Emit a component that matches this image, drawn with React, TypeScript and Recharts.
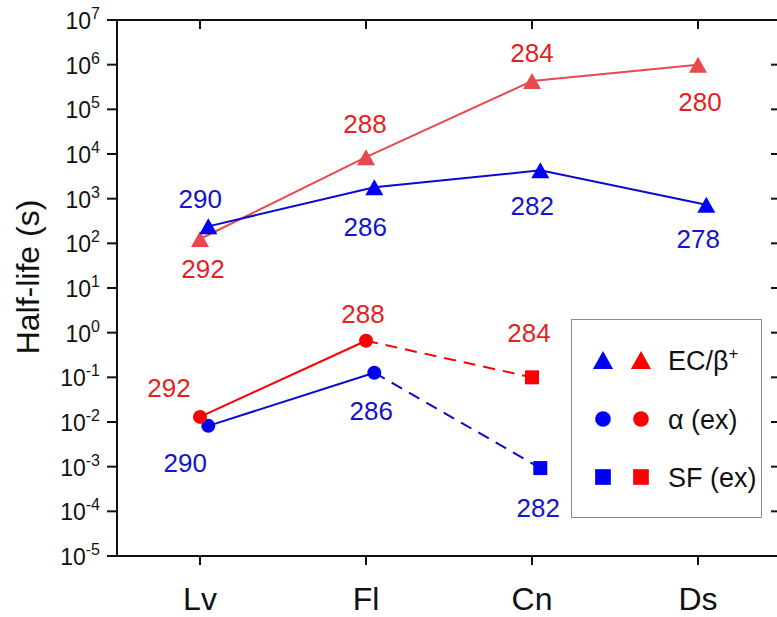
import { ComposedChart, Line, XAxis, YAxis, Legend } from 'recharts';

const FONT = '"Liberation Sans", Arial, Helvetica, sans-serif';

const ELEMENTS = ['Lv', 'Fl', 'Cn', 'Ds'];
const DECADES = [1e-5, 1e-4, 1e-3, 1e-2, 1e-1, 1, 1e1, 1e2, 1e3, 1e4, 1e5, 1e6, 1e7];

// EC/beta+ half-lives (s), one per element, with mass numbers
const EC_RED = [125, 8500, 4.3e5, 1.0e6];
const EC_RED_MASS = [292, 288, 284, 280];
const EC_BLUE = [240, 1800, 4300, 730];
const EC_BLUE_MASS = [290, 286, 282, 278];

// measured alpha half-lives, Lv and Fl only
const ALPHA_RED = [0.013, 0.66];
const ALPHA_RED_MASS = [292, 288];
const ALPHA_BLUE = [0.0082, 0.127];
const ALPHA_BLUE_MASS = [290, 286];

// measured SF half-lives, Cn only
const SF_RED = [0.1];
const SF_RED_MASS = [284];
const SF_BLUE = [9.3e-4];
const SF_BLUE_MASS = [282];

const RED = '#ff0000';
const RED_EC = '#e9494c';
const RED_TEXT = '#e41f25';
const BLUE = '#0000f5';
const BLUE_LINE = '#0a0ad0';
const BLUE_TEXT = '#1414cc';

// blue points sit a little to the right of their category
const BLUE_SHIFT = 0.05;

// label offsets [dx, dy] from the marker centre
const EC_RED_LBL = [[3, 30], [-1, -33], [0, -28], [2, 37]];
const EC_BLUE_LBL = [[-8, -27], [-9, 40], [-8, 36], [-8, 34]];
const ALPHA_RED_LBL = [[-31, -29], [-3, -27]];
const ALPHA_BLUE_LBL = [[-23, 37], [-3, 38]];
const SF_RED_LBL = [[-3, -44]];
const SF_BLUE_LBL = [[-2, 40]];

type Row = { x: number; t: number; mass: number };

const rows = (values: number[], masses: number[], start: number, shift = 0): Row[] =>
  values.map((t, i) => ({ x: start + i + shift, t, mass: masses[i] }));

const ecRed = rows(EC_RED, EC_RED_MASS, 0);
const ecBlue = rows(EC_BLUE, EC_BLUE_MASS, 0, BLUE_SHIFT);
const alphaRed = rows(ALPHA_RED, ALPHA_RED_MASS, 0);
const alphaBlue = rows(ALPHA_BLUE, ALPHA_BLUE_MASS, 0, BLUE_SHIFT);
const sfRed = rows(SF_RED, SF_RED_MASS, 2);
const sfBlue = rows(SF_BLUE, SF_BLUE_MASS, 2, BLUE_SHIFT);

type Shape = 'triangle' | 'circle' | 'square';

function Marker({ shape, cx, cy, fill, size = 1 }: { shape: Shape; cx: number; cy: number; fill: string; size?: number }) {
  if (shape === 'triangle') {
    const w = 18 * size;
    const h = 16 * size;
    return <polygon points={`${cx},${cy - h / 2} ${cx + w / 2},${cy + h / 2} ${cx - w / 2},${cy + h / 2}`} fill={fill} />;
  }
  if (shape === 'circle') return <circle cx={cx} cy={cy} r={7 * size} fill={fill} />;
  const s = 14 * size;
  return <rect x={cx - s / 2} y={cy - s / 2} width={s} height={s} fill={fill} />;
}

const labelledDot = (shape: Shape, fill: string, textFill: string, offsets: number[][]) => (p: any) => {
  const { cx, cy, index, payload } = p;
  if (cx == null || cy == null) return <g key={`d-${index}`} />;
  const [dx, dy] = offsets[index];
  return (
    <g key={`d-${index}`}>
      <Marker shape={shape} cx={cx} cy={cy} fill={fill} />
      <text x={cx + dx} y={cy + dy + 9} textAnchor="middle" fontSize={26} fill={textFill} fontFamily={FONT}>
        {payload.mass}
      </text>
    </g>
  );
};

const PowerTick = ({ x, y, payload }: any) => {
  const exp = Math.round(Math.log10(payload.value));
  return (
    <text x={x} y={y + 9} textAnchor="end" fontSize={23} fill="#111" fontFamily={FONT}>
      <tspan>10</tspan>
      <tspan dy={-10} fontSize={16}>{exp}</tspan>
    </text>
  );
};

const ElementTick = ({ x, y, payload }: any) => (
  <text x={x} y={y + 45} textAnchor="middle" fontSize={32} fill="#111" fontFamily={FONT}>
    {ELEMENTS[payload.value]}
  </text>
);

const YTitle = ({ viewBox }: any) => (
  <text
    transform={`translate(${viewBox.x + 39}, 277) rotate(-90)`}
    textAnchor="middle"
    fontSize={32}
    fill="#111"
    fontFamily={FONT}
  >
    Half-life (s)
  </text>
);

const LEGEND_ROWS: { shape: Shape; label: React.ReactNode }[] = [
  {
    shape: 'triangle',
    label: (
      <>
        <tspan>EC/β</tspan>
        <tspan dy={-11} fontSize={17}>+</tspan>
      </>
    ),
  },
  { shape: 'circle', label: 'α (ex)' },
  { shape: 'square', label: 'SF (ex)' },
];
const LEGEND_ROW_Y = [41, 100, 158];

const LegendBox = () => (
  <svg width={191} height={199} style={{ display: 'block' }}>
    <rect x={0.5} y={0.5} width={190} height={198} fill="#fff" stroke="#8c8c8c" strokeWidth={1} />
    {LEGEND_ROWS.map((r, i) => (
      <g key={i}>
        <Marker shape={r.shape} cx={32} cy={LEGEND_ROW_Y[i]} fill={BLUE} size={1.12} />
        <Marker shape={r.shape} cx={70} cy={LEGEND_ROW_Y[i]} fill={RED} size={1.12} />
        <text x={97} y={LEGEND_ROW_Y[i] + 10} fontSize={27} fill="#111" fontFamily={FONT}>
          {r.label}
        </text>
      </g>
    ))}
  </svg>
);

export default function App() {
  return (
    <div style={{ position: 'absolute', left: 0, top: 0, width: 777, height: 617, overflow: 'hidden', background: '#fff' }}>
      <ComposedChart width={790} height={617} margin={{ top: 20, right: 9, bottom: 0, left: 0 }}>
        <XAxis
          type="number"
          dataKey="x"
          domain={[-0.5, 3.5]}
          ticks={[0, 1, 2, 3]}
          allowDataOverflow
          height={61}
          stroke="#111"
          strokeWidth={2}
          tickSize={9}
          tickMargin={0}
          tick={ElementTick}
        />
        <XAxis
          xAxisId="top"
          orientation="top"
          type="number"
          dataKey="x"
          domain={[-0.5, 3.5]}
          ticks={[0, 1, 2, 3]}
          allowDataOverflow
          mirror
          height={1}
          stroke="#111"
          strokeWidth={2}
          tickSize={9}
          tick={() => <g />}
        />
        <YAxis
          scale="log"
          domain={[1e-5, 1e7]}
          ticks={DECADES}
          allowDataOverflow
          width={117}
          stroke="#111"
          strokeWidth={2}
          tickSize={10}
          tickMargin={7}
          interval={0}
          tick={PowerTick}
          label={{ content: YTitle }}
        />
        <YAxis
          yAxisId="right"
          orientation="right"
          scale="log"
          domain={[1e-5, 1e7]}
          ticks={DECADES}
          allowDataOverflow
          mirror
          width={1}
          stroke="#111"
          strokeWidth={2}
          tickSize={10}
          interval={0}
          tick={() => <g />}
        />

        <Line data={ecRed} dataKey="t" type="linear" stroke={RED_EC} strokeWidth={2}
          dot={labelledDot('triangle', RED_EC, RED_TEXT, EC_RED_LBL)} activeDot={false} isAnimationActive={false} />
        <Line data={ecBlue} dataKey="t" type="linear" stroke={BLUE_LINE} strokeWidth={2}
          dot={labelledDot('triangle', BLUE, BLUE_TEXT, EC_BLUE_LBL)} activeDot={false} isAnimationActive={false} />

        <Line data={[alphaBlue[1], sfBlue[0]]} dataKey="t" type="linear" stroke={BLUE_LINE} strokeWidth={2}
          strokeDasharray="12 8" dot={false} activeDot={false} isAnimationActive={false} />
        <Line data={alphaBlue} dataKey="t" type="linear" stroke={BLUE_LINE} strokeWidth={2}
          dot={labelledDot('circle', BLUE, BLUE_TEXT, ALPHA_BLUE_LBL)} activeDot={false} isAnimationActive={false} />
        <Line data={sfBlue} dataKey="t" type="linear" stroke="none"
          dot={labelledDot('square', BLUE, BLUE_TEXT, SF_BLUE_LBL)} activeDot={false} isAnimationActive={false} />

        <Line data={[alphaRed[1], sfRed[0]]} dataKey="t" type="linear" stroke={RED} strokeWidth={2}
          strokeDasharray="12 8" dot={false} activeDot={false} isAnimationActive={false} />
        <Line data={alphaRed} dataKey="t" type="linear" stroke={RED} strokeWidth={2}
          dot={labelledDot('circle', RED, RED_TEXT, ALPHA_RED_LBL)} activeDot={false} isAnimationActive={false} />
        <Line data={sfRed} dataKey="t" type="linear" stroke="none"
          dot={labelledDot('square', RED, RED_TEXT, SF_RED_LBL)} activeDot={false} isAnimationActive={false} />

        <Legend
          layout="vertical"
          align="center"
          verticalAlign="middle"
          content={LegendBox}
          wrapperStyle={{ position: 'absolute', left: 571, top: 319, width: 191, height: 199 }}
        />
      </ComposedChart>
    </div>
  );
}
